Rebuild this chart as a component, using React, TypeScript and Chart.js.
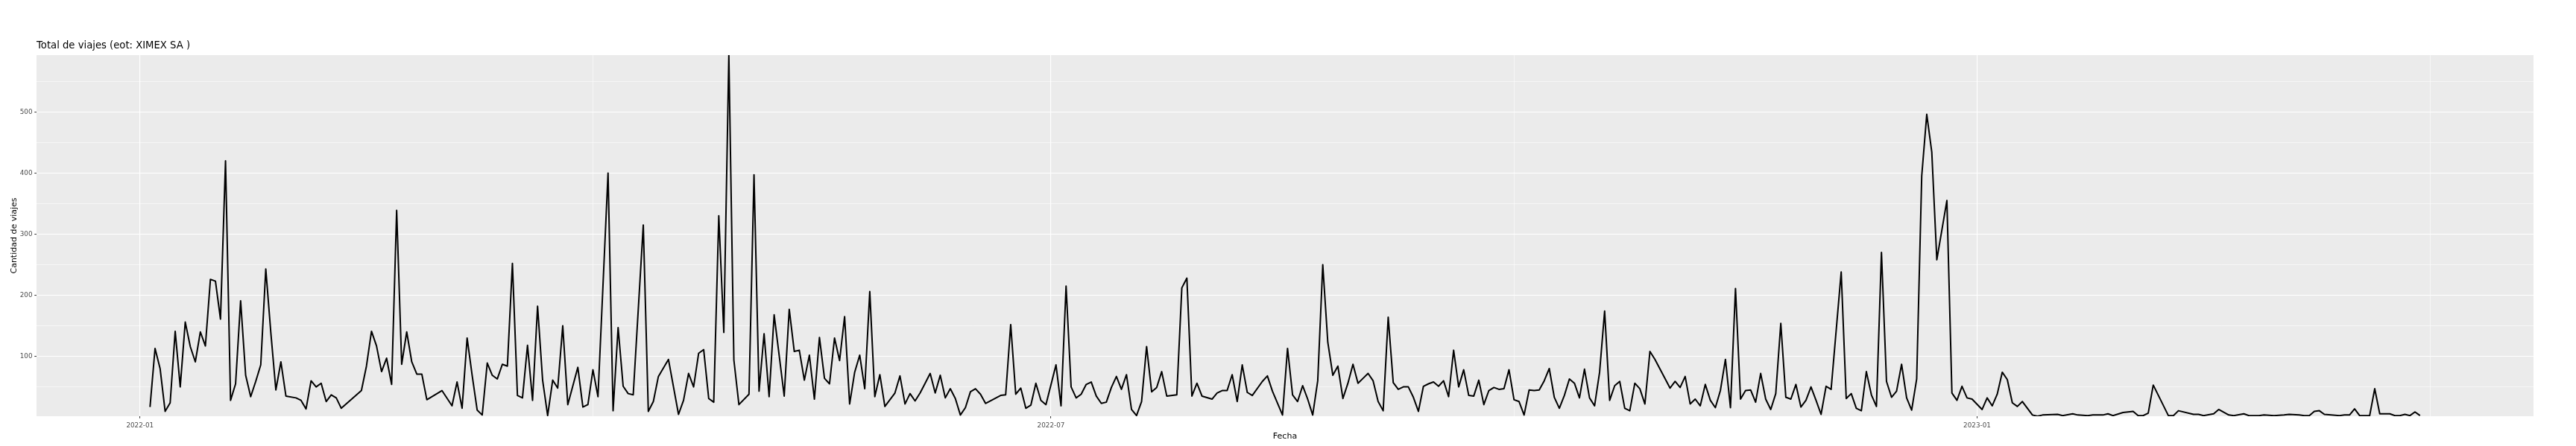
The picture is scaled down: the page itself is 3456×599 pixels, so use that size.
import React, { useEffect, useRef } from 'react';
import { Chart, registerables } from 'chart.js';

Chart.register(...registerables);

const chartTitle = 'Total de viajes (eot: XIMEX SA )';
const xAxisTitle = 'Fecha';
const yAxisTitle = 'Cantidad de viajes';

// Fecha: days counted from 2022-01-01
const fechaDia = [
  2, 3, 4, 5, 6, 7, 8, 9, 10, 11, 12, 13, 14, 15, 16, 17, 18, 19, 20, 21, 22, 23, 24, 25, 26, 27, 28, 29,
  31, 32, 33, 34, 35, 36, 37, 38, 39, 40, 44, 45, 46, 47, 48, 49, 50, 51, 52, 53, 54, 55, 56, 57,
  60, 62, 63, 64, 65, 66, 67, 68, 69, 70, 71, 72, 73, 74, 75, 76, 77, 78, 79, 80, 81, 82, 83, 84, 85,
  87, 88, 89, 90, 91, 93, 94, 95, 96, 97, 98, 100, 101, 102, 103, 105, 107, 108, 109, 110, 111, 112,
  113, 114, 115, 116, 117, 118, 119, 121, 122, 123, 124, 125, 126, 128, 129, 130, 131, 132, 133, 134,
  135, 136, 137, 138, 139, 140, 141, 142, 143, 144, 145, 146, 147, 148, 150, 151, 152, 153, 154, 155,
  156, 157, 158, 159, 160, 161, 162, 163, 164, 165, 166, 167, 168, 171, 172, 173, 174, 175, 176, 177,
  178, 179, 180, 182, 183, 184, 185, 186, 187, 188, 189, 190, 191, 192, 193, 194, 195, 196, 197, 198,
  199, 200, 201, 202, 203, 204, 206, 207, 208, 209, 210, 211, 213, 214, 215, 216, 217, 218, 219, 220,
  221, 223, 224, 225, 227, 228, 229, 230, 231, 232, 233, 234, 235, 236, 237, 238, 239, 240, 241, 242,
  243, 244, 245, 246, 247, 248, 249, 250, 251, 252, 253, 254, 255, 256, 257, 258, 259, 260, 261, 262,
  263, 264, 265, 266, 267, 268, 269, 270, 271, 272, 273, 274, 275, 276, 277, 278, 279, 280, 281, 282,
  283, 284, 285, 286, 287, 288, 289, 290, 291, 292, 293, 294, 295, 296, 297, 298, 299, 300, 301, 304,
  305, 306, 307, 308, 309, 310, 311, 312, 313, 314, 315, 316, 317, 318, 319, 320, 321, 322, 323, 324,
  325, 326, 327, 328, 329, 330, 331, 332, 333, 334, 335, 336, 338, 339, 340, 341, 342, 343, 344, 345,
  346, 347, 348, 349, 350, 351, 352, 353, 354, 355, 356, 357, 359, 360, 361, 362, 363, 364, 366, 367,
  368, 369, 370, 371, 372, 373, 374, 376, 377, 378, 381, 382, 384, 385, 387, 388, 390, 391, 392, 394,
  396, 397, 398, 399, 400, 403, 404, 405, 408, 409, 410, 412, 413, 415, 416, 418, 419, 421, 422, 424,
  426, 427, 429, 430, 431, 432, 433, 434, 437, 438, 439, 440, 441, 442, 443, 444, 445, 446, 447, 448,
  449, 450, 451, 452, 453,
];

const cantidadViajes = [
  17, 113, 80, 10, 24, 141, 50, 156, 116, 91, 140, 117, 226, 223, 161, 420, 28, 55, 191, 69, 34, 59, 86, 243, 139, 45, 91, 35,
  32, 28, 14, 60, 50, 56, 26, 37, 32, 15, 44, 84, 141, 117, 75, 97, 54, 339, 87, 140, 91, 71, 71, 29,
  44, 19, 58, 15, 130, 69, 12, 4, 89, 69, 63, 87, 84, 252, 36, 32, 118, 28, 182, 61, 3, 61, 48, 150, 21,
  82, 17, 21, 78, 34, 400, 11, 147, 51, 39, 37, 315, 10, 26, 67, 95, 5, 28, 72, 50, 105, 111,
  31, 25, 330, 139, 593, 94, 21, 38, 397, 43, 137, 34, 168, 35, 177, 108, 110, 61, 102, 30,
  131, 64, 55, 130, 93, 165, 22, 74, 102, 47, 206, 34, 70, 18, 40, 68, 22, 39, 27, 40,
  56, 72, 40, 69, 32, 47, 31, 4, 16, 42, 47, 38, 23, 36, 37, 152, 38, 48, 15, 20,
  56, 28, 21, 86, 19, 215, 50, 32, 38, 54, 58, 35, 23, 25, 49, 67, 46, 70, 13, 3,
  26, 116, 42, 49, 75, 35, 37, 212, 228, 35, 56, 35, 30, 40, 44, 44, 70, 26, 86, 41,
  36, 59, 68, 43, 4, 113, 37, 26, 52, 30, 4, 60, 250, 123, 69, 84, 31, 56, 87, 56,
  64, 72, 60, 26, 11, 164, 57, 46, 50, 50, 33, 10, 51, 55, 58, 51, 60, 34, 110, 50,
  78, 36, 35, 61, 21, 44, 49, 46, 47, 78, 29, 26, 4, 45, 44, 45, 60, 80, 33, 15,
  36, 63, 56, 32, 79, 32, 19, 74, 174, 28, 52, 59, 15, 11, 56, 47, 22, 108, 95, 48,
  59, 49, 67, 22, 30, 19, 54, 28, 16, 44, 95, 16, 211, 30, 44, 45, 25, 72, 30, 13,
  39, 154, 33, 30, 54, 17, 28, 50, 28, 5, 51, 46, 238, 31, 39, 15, 11, 75, 37, 18,
  270, 59, 33, 43, 87, 32, 12, 63, 395, 496, 434, 258, 355, 40, 28, 51, 32, 30, 13, 32,
  19, 38, 74, 62, 24, 18, 26, 4, 2, 4, 5, 3, 6, 4, 3, 4, 4, 6, 3, 8,
  10, 3, 3, 7, 53, 3, 3, 11, 5, 5, 3, 6, 13, 4, 3, 6, 3, 3, 4, 3,
  4, 5, 4, 3, 3, 10, 11, 5, 3, 4, 4, 14, 3, 3, 3, 47, 6, 6, 6, 3,
  3, 5, 3, 9, 3,
];

// axis ticks (days from 2022-01-01)
const xMajorTicks = [0, 181, 365];
const xMajorLabels = ['2022-01', '2022-07', '2023-01'];
const xMinorTicks = [90, 273, 455];
const yMajorTicks = [100, 200, 300, 400, 500];
const yMinorTicks = [50, 150, 250, 350, 450, 550];

const FONT = '"DejaVu Sans", sans-serif';

export default function App() {
  const ref = useRef<HTMLCanvasElement | null>(null);

  useEffect(() => {
    const canvas = ref.current;
    if (!canvas) return;

    const points = fechaDia.map((d, i) => ({ x: d, y: cantidadViajes[i] }));
    const dMin = Math.min(...fechaDia);
    const dMax = Math.max(...fechaDia);
    const span = dMax - dMin;
    const xMin = dMin - span * 0.05;
    const xMax = dMax + span * 0.05;
    const yMin = Math.min(...cantidadViajes);
    const yMax = Math.max(...cantidadViajes);

    const xTicksAll = [...xMajorTicks, ...xMinorTicks].sort((a, b) => a - b);
    const yTicksAll = [...yMajorTicks, ...yMinorTicks].sort((a, b) => a - b);

    const panelBg = {
      id: 'panelBg',
      beforeDraw(chart: any) {
        const { ctx, chartArea } = chart;
        ctx.save();
        ctx.fillStyle = '#EBEBEB';
        ctx.fillRect(chartArea.left, chartArea.top, chartArea.right - chartArea.left, chartArea.bottom - chartArea.top);
        ctx.restore();
      },
    };

    const titlePlugin = {
      id: 'ggTitle',
      afterDraw(chart: any) {
        const { ctx, chartArea } = chart;
        ctx.save();
        ctx.font = `13.2px ${FONT}`;
        ctx.fillStyle = '#000000';
        ctx.textAlign = 'left';
        ctx.textBaseline = 'alphabetic';
        ctx.fillText(chartTitle, chartArea.left, chartArea.top - 9.5);
        ctx.restore();
      },
    };

    const chart = new Chart(canvas, {
      type: 'line',
      data: {
        datasets: [
          {
            data: points,
            borderColor: '#000000',
            borderWidth: 2,
            pointRadius: 0,
            pointHoverRadius: 0,
            fill: false,
            tension: 0,
            borderJoinStyle: 'round',
            clip: 0,
          } as any,
        ],
      },
      options: {
        animation: false,
        responsive: false,
        devicePixelRatio: 1,
        layout: { padding: { left: 0, top: 74, right: 57, bottom: 0 } },
        plugins: {
          legend: { display: false },
          tooltip: { enabled: false },
          title: { display: false },
        },
        scales: {
          x: {
            type: 'linear',
            min: xMin,
            max: xMax,
            afterBuildTicks: (scale: any) => {
              scale.ticks = xTicksAll.map((v) => ({ value: v }));
            },
            afterFit: (scale: any) => {
              scale.height = 40;
            },
            ticks: {
              autoSkip: false,
              maxRotation: 0,
              minRotation: 0,
              padding: 4.5,
              color: '#4D4D4D',
              font: { family: FONT, size: 8.8 },
              callback: (value: any) => {
                const i = xMajorTicks.indexOf(Number(value));
                return i >= 0 ? xMajorLabels[i] : '';
              },
            },
            grid: {
              color: '#FFFFFF',
              lineWidth: (ctx: any) => (ctx.tick && xMajorTicks.includes(ctx.tick.value) ? 1.1 : 0.55),
              drawTicks: true,
              tickLength: 2.75,
              tickWidth: 1,
              tickColor: (ctx: any) => (ctx.tick && xMajorTicks.includes(ctx.tick.value) ? '#333333' : 'rgba(0,0,0,0)'),
            },
            border: { display: false },
            title: {
              display: true,
              text: xAxisTitle,
              color: '#000000',
              font: { family: FONT, size: 11 },
              padding: { top: 0, bottom: 6 },
            },
          },
          y: {
            type: 'linear',
            min: yMin,
            max: yMax,
            afterBuildTicks: (scale: any) => {
              scale.ticks = yTicksAll.map((v) => ({ value: v }));
            },
            afterFit: (scale: any) => {
              scale.width = 49;
            },
            ticks: {
              autoSkip: false,
              padding: 2.75,
              color: '#4D4D4D',
              font: { family: FONT, size: 8.8 },
              callback: (value: any) => (yMajorTicks.includes(Number(value)) ? String(value) : ''),
            },
            grid: {
              color: '#FFFFFF',
              lineWidth: (ctx: any) => (ctx.tick && yMajorTicks.includes(ctx.tick.value) ? 1.1 : 0.55),
              drawTicks: true,
              tickLength: 2.75,
              tickWidth: 1,
              tickColor: (ctx: any) => (ctx.tick && yMajorTicks.includes(ctx.tick.value) ? '#333333' : 'rgba(0,0,0,0)'),
            },
            border: { display: false },
            title: {
              display: true,
              text: yAxisTitle,
              color: '#000000',
              font: { family: FONT, size: 11 },
              padding: { top: 13, bottom: 0 },
            },
          },
        },
      } as any,
      plugins: [panelBg, titlePlugin],
    });

    return () => {
      chart.destroy();
    };
  }, []);

  return (
    <div style={{ position: 'absolute', left: 0, top: 0, width: 3456, height: 599, background: '#FFFFFF' }}>
      <canvas ref={ref} width={3456} height={599} style={{ display: 'block', width: 3456, height: 599 }} />
    </div>
  );
}
